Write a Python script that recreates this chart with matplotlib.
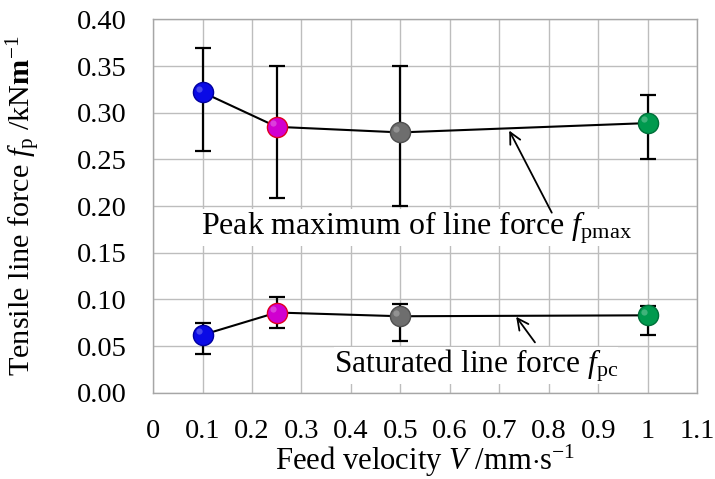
import matplotlib
matplotlib.use("Agg")
from matplotlib import pyplot as plt
from matplotlib.ticker import MultipleLocator

# feed velocity (mm/s)
velocity = [0.1, 0.25, 0.5, 1.0]
colors = ['#0a0ae6', '#d000d0', '#6e6e6e', '#009a4e']
edges = ['#0000a0', '#e00020', '#505050', '#00703a']

# peak maximum line force f_pmax and its range
fpmax = [0.322, 0.285, 0.279, 0.289]
fpmax_hi = [0.369, 0.350, 0.350, 0.319]
fpmax_lo = [0.259, 0.209, 0.200, 0.250]

# saturated line force f_pc and its range
fpc = [0.062, 0.086, 0.082, 0.083]
fpc_hi = [0.075, 0.103, 0.095, 0.093]
fpc_lo = [0.042, 0.069, 0.055, 0.062]

xticks = [0, 0.1, 0.2, 0.3, 0.4, 0.5, 0.6, 0.7, 0.8, 0.9, 1, 1.1]
xticklabels = ['0', '0.1', '0.2', '0.3', '0.4', '0.5', '0.6', '0.7', '0.8', '0.9', '1', '1.1']

plt.rcParams['font.family'] = ['Liberation Serif', 'DejaVu Serif']
plt.rcParams['mathtext.fontset'] = 'custom'
plt.rcParams['mathtext.rm'] = 'Liberation Serif'
plt.rcParams['mathtext.it'] = 'Liberation Serif:italic'
plt.rcParams['mathtext.bf'] = 'Liberation Serif:bold'

fig = plt.figure(figsize=(7.15, 4.79), dpi=100)
ax = fig.add_axes([0.2141, 0.180, 0.761, 0.7793])


def draw_series(y, hi, lo):
    ax.plot(velocity, y, color='black', lw=1.5, zorder=3)
    for xi, yi, h, l, c, e in zip(velocity, y, hi, lo, colors, edges):
        ax.errorbar([xi], [yi], yerr=[[yi - l], [h - yi]], fmt='none',
                    ecolor='black', elinewidth=1.6, capsize=6, capthick=1.6, zorder=2)
        ax.plot(xi, yi, 'o', ms=14.5, color=c, mec=e, mew=1.0, zorder=4)
        # small highlight to hint the shaded spheres
        ax.plot(xi - 0.008, yi + 0.004, 'o', ms=4.5, color='white', alpha=0.25,
                mec='none', zorder=5)


draw_series(fpmax, fpmax_hi, fpmax_lo)
draw_series(fpc, fpc_hi, fpc_lo)

ax.set_xlim(0, 1.1)
ax.set_ylim(0, 0.40)
ax.set_xticks(xticks)
ax.set_xticklabels(xticklabels)
ax.yaxis.set_major_locator(MultipleLocator(0.05))
ax.yaxis.set_major_formatter(plt.FormatStrFormatter('%.2f'))
ax.tick_params(axis='both', length=0, labelsize=20.5)
ax.tick_params(axis='x', pad=19)
ax.tick_params(axis='y', pad=19)
ax.grid(True, color='#bdbdbd', lw=1.0, zorder=0)
ax.set_axisbelow(True)
for s in ax.spines.values():
    s.set_color('#a6a6a6')
    s.set_linewidth(1.0)

xl = ax.set_xlabel(r'Feed velocity $\mathit{V}$ /mm$\cdot$s$^{\mathrm{-1}}$', fontsize=21)
ax.xaxis.set_label_coords(0.5, -0.135)
yl = ax.set_ylabel(r'Tensile line force $\mathit{f}_{\mathrm{p}}$ /kN$\mathbf{m}^{\mathrm{-1}}$',
                   fontsize=21)
ax.yaxis.set_label_coords(-0.202, 0.5)

box = dict(boxstyle='square,pad=0.0', fc='white', ec='none')
t1 = ax.text(0.533, 0.177, r'Peak maximum of line force $\mathit{f}_{\mathrm{pmax}}$',
             ha='center', va='center', fontsize=22, bbox=box, zorder=6)
t2 = ax.text(0.653, 0.029, r'Saturated line force $\mathit{f}_{\mathrm{pc}}$',
             ha='center', va='center', fontsize=22, bbox=box, zorder=6)

arrow = dict(arrowstyle='->', color='black', lw=1.3, shrinkA=0, shrinkB=0, mutation_scale=20)
ax.annotate('', xy=(0.72, 0.281), xytext=(0.806, 0.193), arrowprops=arrow, zorder=7)
ax.annotate('', xy=(0.734, 0.0815), xytext=(0.772, 0.054), arrowprops=arrow, zorder=7)

# scale the texts so their lengths match the reference (in pixels)
fig.canvas.draw()
r = fig.canvas.get_renderer()
for t, target, vertical in [(t1, 431, False), (t2, 284, False), (xl, 300, False), (yl, 340, True)]:
    bb = t.get_window_extent(r)
    cur = bb.height if vertical else bb.width
    t.set_fontsize(t.get_fontsize() * target / cur)

fig.savefig('out.png', dpi=100)
